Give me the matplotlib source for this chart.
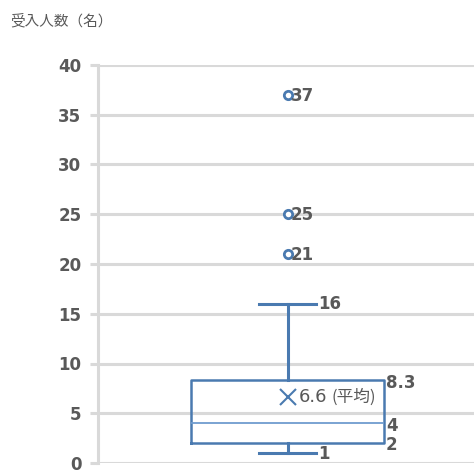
import matplotlib.pyplot as plt

plt.rcParams['font.family'] = ['Noto Sans CJK JP', 'DejaVu Sans']

# 受入人数の箱ひげ図の値
whisker_low = 1
q1 = 2
median = 4
q3 = 8.3
whisker_high = 16
mean = 6.6
outliers = [21, 25, 37]
yticks = [0, 5, 10, 15, 20, 25, 30, 35, 40]

box_col = "#4a7ab0"
med_col = "#6f9ccf"
grid_col = "#d9d9d9"
txt_col = "#595959"

fig = plt.figure(figsize=(4.74, 4.70), dpi=100)
ax = fig.add_axes([98/474, 1 - 463/470, 1 - 98/474, 398/470])

stats = [{
    'whislo': whisker_low, 'q1': q1, 'med': median, 'q3': q3,
    'whishi': whisker_high, 'mean': mean, 'fliers': outliers,
}]
ax.bxp(stats, positions=[0.505], widths=0.513, showmeans=True,
       boxprops=dict(color=box_col, linewidth=1.8),
       medianprops=dict(color=med_col, linewidth=1.3),
       whiskerprops=dict(color=box_col, linewidth=2.2),
       capprops=dict(color=box_col, linewidth=2.2),
       capwidths=0.152,
       meanprops=dict(marker='x', markeredgecolor=box_col, markersize=11, markeredgewidth=1.5),
       flierprops=dict(marker='o', markerfacecolor='white', markeredgecolor=box_col,
                       markersize=6, markeredgewidth=2))

ax.set_xlim(0, 1)
ax.set_ylim(0, 40)
ax.set_yticks(yticks)
ax.set_yticklabels([str(t) for t in yticks], fontsize=12, color=txt_col,
                   fontweight='bold', family='DejaVu Sans')
ax.set_xticks([])
ax.grid(axis='y', color=grid_col, linewidth=2.2)
ax.set_axisbelow(True)
ax.tick_params(axis='y', length=6, width=2.2, color=grid_col, pad=6)
for s in ['top', 'right', 'bottom']:
    ax.spines[s].set_visible(False)
ax.spines['left'].set_color(grid_col)
ax.spines['left'].set_linewidth(2.2)

# ラベル
lab = dict(fontsize=12, color=txt_col, fontweight='bold', family='DejaVu Sans', va='center')
for v in outliers:
    ax.text(0.513, v - 0.1, str(v), **lab)
ax.text(0.585, whisker_high, str(whisker_high), **lab)
ax.text(0.585, whisker_low - 0.1, str(whisker_low), **lab)
ax.text(0.766, q3 - 0.3, str(q3), **lab)
ax.text(0.766, median - 0.3, str(median), **lab)
ax.text(0.766, q1 - 0.2, str(q1), **lab)
ax.text(0.535, mean, "{}".format(mean), fontsize=13, color=txt_col, va='center',
        family='DejaVu Sans')
ax.text(0.62, mean, "(平均)", fontsize=12, color=txt_col, va='center')

fig.text(10/474, 1 - 21/470, "受入人数（名）", fontsize=10.5, color=txt_col, va='center')

fig.savefig("out.png", dpi=100)
